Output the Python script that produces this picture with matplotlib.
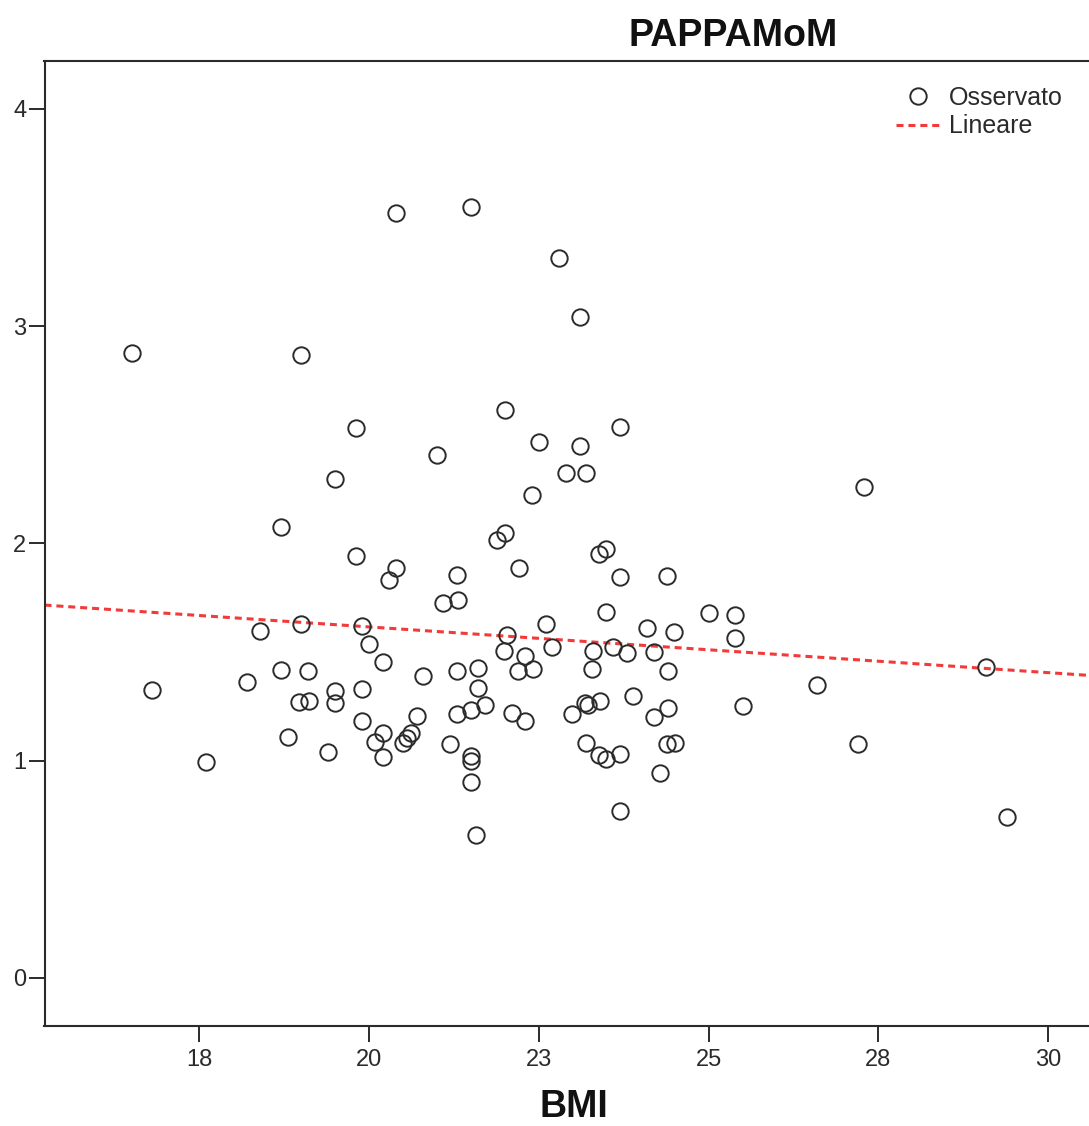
import numpy as np
import matplotlib.pyplot as plt

plt.rcParams['font.family'] = ['Liberation Sans', 'DejaVu Sans']

# BMI vs PAPPA MoM
bmi = [16.51, 19.00, 19.80, 19.50, 20.40, 21.50, 22.80, 23.10, 22.00, 21.00,
       22.50, 23.10, 23.70, 22.90, 23.20, 22.40, 27.29, 18.70, 19.80, 20.40,
       20.29, 21.30, 21.09, 21.31, 18.39, 19.00, 19.90, 20.00, 20.20, 18.20,
       18.70, 19.10, 20.80, 21.30, 21.61, 21.61, 19.90, 19.50, 19.50, 18.97,
       19.11, 21.29, 21.50, 20.70, 19.90, 18.80, 19.40, 20.20, 20.09, 20.20,
       20.50, 20.56, 20.62, 21.19, 21.50, 21.50, 21.50, 21.58, 21.71, 22.10,
       22.30, 22.99, 23.18, 23.22, 23.40, 23.89, 24.19, 24.40, 23.20, 23.39,
       23.49, 23.70, 24.38, 24.51, 24.29, 23.70, 21.89, 22.00, 22.20, 23.38,
       23.49, 23.70, 24.39, 23.49, 25.00, 25.39, 25.39, 22.60, 22.03, 24.09,
       24.49, 21.99, 22.30, 22.69, 23.29, 23.59, 23.79, 24.19, 22.19, 22.41,
       23.28, 24.40, 29.09, 26.59, 25.50, 27.20, 29.39, 16.80, 17.60]
pappa = [2.878, 2.867, 2.531, 2.296, 3.521, 3.550, 3.315, 3.042, 2.612, 2.407,
         2.465, 2.449, 2.534, 2.325, 2.322, 2.222, 2.261, 2.074, 1.940, 1.885,
         1.831, 1.854, 1.727, 1.739, 1.596, 1.628, 1.619, 1.536, 1.454, 1.361,
         1.417, 1.411, 1.389, 1.413, 1.426, 1.336, 1.328, 1.320, 1.266, 1.268,
         1.275, 1.215, 1.232, 1.207, 1.180, 1.110, 1.038, 1.128, 1.085, 1.018,
         1.079, 1.102, 1.125, 1.074, 1.023, 1.000, 0.903, 0.655, 1.256, 1.217,
         1.180, 1.212, 1.265, 1.254, 1.274, 1.297, 1.200, 1.240, 1.082, 1.025,
         1.006, 1.030, 1.076, 1.081, 0.944, 0.769, 2.015, 2.049, 1.885, 1.951,
         1.972, 1.846, 1.851, 1.685, 1.680, 1.670, 1.563, 1.628, 1.576, 1.611,
         1.590, 1.506, 1.481, 1.521, 1.506, 1.524, 1.494, 1.498, 1.412, 1.420,
         1.420, 1.412, 1.432, 1.348, 1.252, 1.076, 0.738, 1.325, 0.992]

# linear fit shown in the chart
fit_intercept = 2.036
fit_slope = -0.02105

x_ticks = [17.5, 20, 22.5, 25, 27.5, 30]
x_ticklabels = ['18', '20', '23', '25', '28', '30']
y_ticks = [0, 1, 2, 3, 4]

W, H = 1089, 1126
fig = plt.figure(figsize=(W / 100, H / 100), dpi=100)
ax = fig.add_axes([44.5 / W, 1 - 1025.7 / H, 1 - 44.5 / W, (1025.7 - 60.7) / H])

dark = '#2b2b2b'
ax.plot(bmi, pappa, linestyle='none', marker='o', markersize=11.8,
        markerfacecolor='none', markeredgecolor=dark, markeredgewidth=1.4,
        label='Osservato', zorder=3)

xlim = (15.22, 30.60)
xs = np.array(xlim)
ax.plot(xs, fit_intercept + fit_slope * xs, color='#f23a3a', lw=2.2,
        linestyle=(0, (2.3, 1.6)), label='Lineare', zorder=2)

ax.set_xlim(xlim)
ax.set_ylim(-0.221, 4.222)
ax.set_xticks(x_ticks)
ax.set_xticklabels(x_ticklabels)
ax.set_yticks(y_ticks)

for side in ['left', 'bottom', 'top']:
    ax.spines[side].set_color(dark)
    ax.spines[side].set_linewidth(1.5)
ax.spines['right'].set_visible(False)

ax.tick_params(axis='both', direction='out', length=11.5, width=1.4,
               color=dark, labelsize=17, labelcolor='#2a2a2a')
ax.tick_params(axis='y', pad=1.5)
ax.tick_params(axis='x', pad=5)

leg = ax.legend(loc='upper left', bbox_to_anchor=(896 / W, 1 - 86 / H),
                bbox_transform=fig.transFigure, frameon=False, fontsize=18,
                borderpad=0, borderaxespad=0, handlelength=1.76,
                handletextpad=0.36, labelspacing=0.17)
for t in leg.get_texts():
    t.set_color('#2a2a2a')

fig.text(733 / W, 1 - 45.7 / H, 'PAPPAMoM', ha='center', va='baseline',
         fontsize=27, fontweight='bold', color='#111111')
fig.text(574 / W, 1 / H, 'BMI', ha='center', va='bottom',
         fontsize=27, fontweight='bold', color='#111111')

fig.savefig('out.png', dpi=100)
